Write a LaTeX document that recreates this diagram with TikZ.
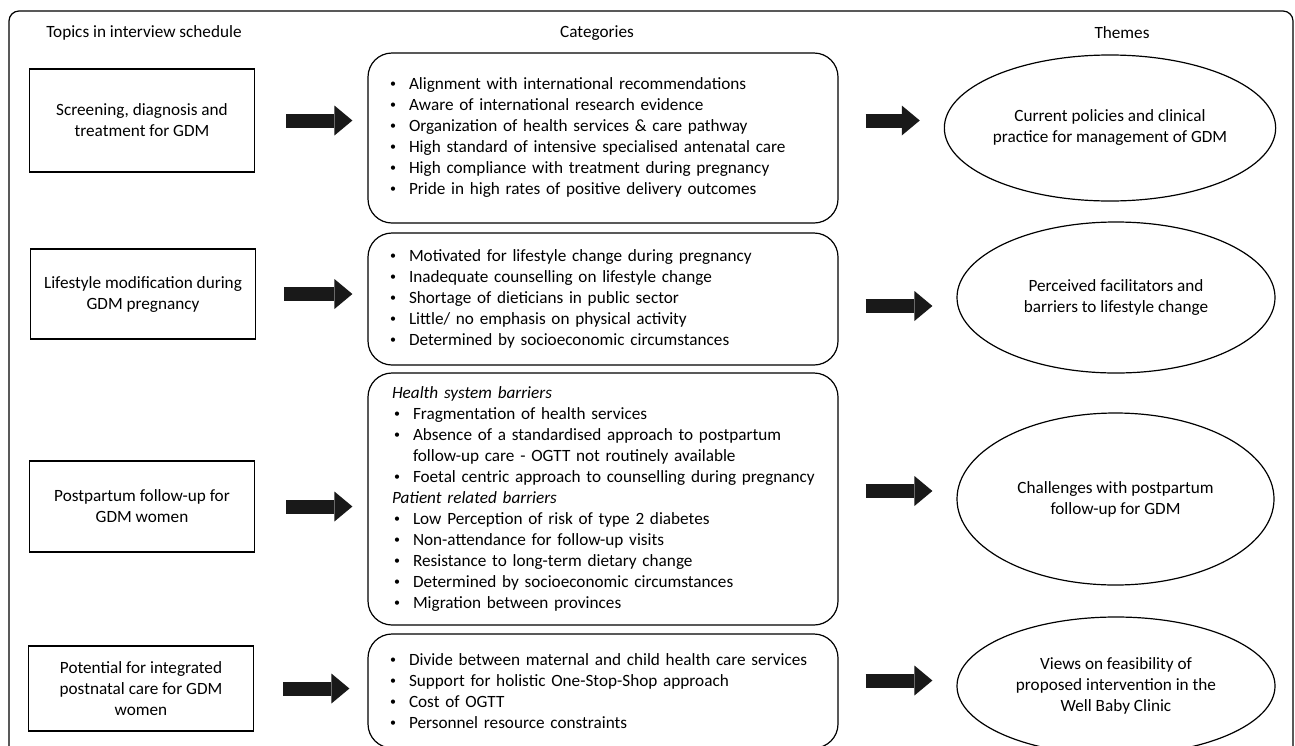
\documentclass[tikz,border=0pt]{standalone}
\usepackage{fontspec}
\setmainfont{Carlito}
\usetikzlibrary{shapes.geometric,arrows.meta,calc}

\newcommand{\catitem}[1]{\mbox{\makebox[17pt][l]{\hspace*{-2pt}\raisebox{2pt}{\fontsize{12}{12}\selectfont\textbullet}}#1}}

\begin{document}
\begin{tikzpicture}[x=1pt, y=-1pt, line width=1.2pt,
  every node/.style={font=\fontsize{17.2}{21}\selectfont},
  topicbox/.style={draw, minimum width=225pt, align=center, inner sep=4pt},
  catbox/.style={draw, rounded corners=24pt, minimum width=470pt, text width=422pt, inner xsep=24pt, align=left},
  themebox/.style={draw, ellipse, align=center, inner sep=0pt},
  fatarrow/.style={line width=14pt, color=black!90, -{Triangle[length=18pt, width=30pt, line width=0pt]}}]
  \useasboundingbox (0,0) rectangle (1295,745);
  \draw[rounded corners=10pt] (9,11) rectangle (1293,775);

  % column heads
  \node (hTopics) at (144,33) {Topics in interview schedule};
  \node (hCats) at (597,33) {Categories};
  \node (hThemes) at (1122,33) {Themes};

  % topics
  \node[topicbox, minimum height=103pt] (t1) at (142,120.5) {Screening, diagnosis and\\treatment for GDM};
  \node[topicbox, minimum height=90pt] (t2) at (143,294) {Lifestyle modification during\\GDM pregnancy};
  \node[topicbox, minimum height=91pt] (t3) at (142,506.5) {Postpartum follow-up for\\GDM women};
  \node[topicbox, minimum height=85pt] (t4) at (141,688.5) {Potential for integrated\\postnatal care for GDM\\women};

  % categories
  \node[catbox, minimum height=170pt] (c1) at (603,138) {
    \catitem{Alignment with international recommendations}\\
    \catitem{Aware of international research evidence}\\
    \catitem{Organization of health services \& care pathway}\\
    \catitem{High standard of intensive specialised antenatal care}\\
    \catitem{High compliance with treatment during pregnancy}\\
    \catitem{Pride in high rates of positive delivery outcomes}};
  \node[catbox, minimum height=132pt] (c2) at (603,299) {
    \catitem{Motivated for lifestyle change during pregnancy}\\
    \catitem{Inadequate counselling on lifestyle change}\\
    \catitem{Shortage of dieticians in public sector}\\
    \catitem{Little/ no emphasis on physical activity}\\
    \catitem{Determined by socioeconomic circumstances}};
  \node[catbox, minimum height=252pt] (c3) at (603,499) {
    \textit{Health system barriers}\\
    \hspace*{4pt}\catitem{Fragmentation of health services}\\
    \hspace*{4pt}\catitem{Absence of a standardised approach to postpartum}\\
    \hspace*{21pt}follow-up care - OGTT not routinely available\\
    \hspace*{4pt}\catitem{Foetal centric approach to counselling during pregnancy}\\
    \textit{Patient related barriers}\\
    \hspace*{4pt}\catitem{Low Perception of risk of type 2 diabetes}\\
    \hspace*{4pt}\catitem{Non-attendance for follow-up visits}\\
    \hspace*{4pt}\catitem{Resistance to long-term dietary change}\\
    \hspace*{4pt}\catitem{Determined by socioeconomic circumstances}\\
    \hspace*{4pt}\catitem{Migration between provinces}};
  \node[catbox, minimum height=114pt] (c4) at (603,691) {
    \catitem{Divide between maternal and child health care services}\\
    \catitem{Support for holistic One-Stop-Shop approach}\\
    \catitem{Cost of OGTT}\\
    \catitem{Personnel resource constraints}};

  % themes
  \node[themebox, minimum width=306pt, minimum height=146pt] (e1) at (1110,128) {Current policies and clinical\\practice for management of GDM};
  \node[themebox, minimum width=318pt, minimum height=151pt] (e2) at (1116,297.5) {Perceived facilitators and\\barriers to lifestyle change};
  \node[themebox, minimum width=317pt, minimum height=172pt] (e3) at (1115.5,499) {Challenges with postpartum\\follow-up for GDM};
  \node[themebox, minimum width=318pt, minimum height=138pt] (e4) at (1116,686) {Views on feasibility of\\proposed intervention in the\\Well Baby Clinic};

  % topic -> categories
  \draw[fatarrow, shorten <=31pt, shorten >=15pt] (t1.east) -- (t1.east -| c1.west);
  \draw[fatarrow, shorten <=28pt, shorten >=15pt] (t2.east) -- (t2.east -| c2.west);
  \draw[fatarrow, shorten <=31pt, shorten >=15pt] (t3.east) -- (t3.east -| c3.west);
  \draw[fatarrow, shorten <=29pt, shorten >=18pt] (t4.east) -- (t4.east -| c4.west);

  % categories -> themes
  \draw[fatarrow, shorten <=27pt, shorten >=24pt] ($(c1.east |- e1)+(0,-7.5)$) -- ($(e1.west)+(0,-7.5)$);
  \draw[fatarrow, shorten <=27pt, shorten >=24pt] ($(c2.east |- e2)+(0,8.5)$) -- ($(e2.west)+(0,8.5)$);
  \draw[fatarrow, shorten <=27pt, shorten >=24pt] ($(c3.east |- e3)+(0,-8)$) -- ($(e3.west)+(0,-8)$);
  \draw[fatarrow, shorten <=27pt, shorten >=24pt] ($(c4.east |- e4)+(0,-5.5)$) -- ($(e4.west)+(0,-5.5)$);
\end{tikzpicture}
\end{document}
